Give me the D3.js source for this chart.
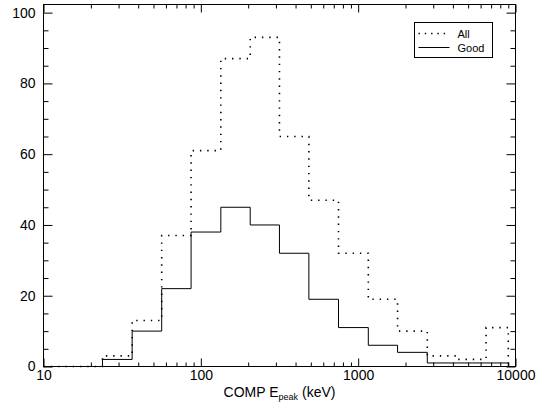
<!DOCTYPE html>
<html>
<head>
<meta charset="utf-8">
<script src="https://cdn.jsdelivr.net/npm/d3@7"></script>
<style>
  html, body { margin: 0; padding: 0; background: #fff; }
  svg { display: block; font-family: "Liberation Sans", Arial, Helvetica, sans-serif; }
</style>
</head>
<body>
<svg id="chart" width="543" height="406"></svg>
<script>
// ---- data ----
const binEdges = [10, 23.7, 36.6, 56.4, 86.7, 134, 206, 316, 486, 750, 1160, 1780, 2750, 4200, 6500, 9000];
const allCounts  = [0, 3, 13, 37, 61, 87, 93, 65, 47, 32, 19, 10, 3, 2, 11];
const goodCounts = [0, 2, 10, 22, 38, 45, 40, 32, 19, 11, 6, 4, 1, 1, 1];
const xMajorTicks = [10, 100, 1000, 10000];
const xMinorTicks = [20,30,40,50,60,70,80,90,200,300,400,500,600,700,800,900,2000,3000,4000,5000,6000,7000,8000,9000];
const yMajorTicks = [0, 20, 40, 60, 80, 100];
const yMinorTicks = [5,10,15,25,30,35,45,50,55,65,70,75,85,90,95];
const seriesNames = ["All", "Good"];

const svg = d3.select("#chart");
const L = 43.5, R = 515.5, T = 4.5, B = 366.5;

const x = d3.scaleLog().domain([10, 10000]).range([L, R]);
const y = d3.scaleLinear().domain([0, 102.3]).range([B, T]);

// frame
svg.append("rect").attr("x", L).attr("y", T).attr("width", R - L).attr("height", B - T)
  .attr("fill", "none").attr("stroke", "#000").attr("stroke-width", 1);

function styleAxis(g) {
  g.select(".domain").remove();
  g.selectAll(".tick line").attr("stroke", "#000").attr("stroke-width", 1);
  g.selectAll(".tick text").attr("fill", "#000").style("font-size", "14px")
    .style("font-family", '"Liberation Sans", Arial, Helvetica, sans-serif');
}

// bottom axis
svg.append("g").attr("transform", `translate(0,${B})`)
  .call(d3.axisBottom(x).tickValues(xMajorTicks).tickFormat(d3.format("d")).tickSize(-8).tickPadding(4))
  .call(styleAxis);
svg.append("g").attr("transform", `translate(0,${B})`)
  .call(d3.axisBottom(x).tickValues(xMinorTicks).tickFormat("").tickSize(-4))
  .call(styleAxis);
// top axis
svg.append("g").attr("transform", `translate(0,${T})`)
  .call(d3.axisTop(x).tickValues(xMajorTicks).tickFormat("").tickSize(-8))
  .call(styleAxis);
svg.append("g").attr("transform", `translate(0,${T})`)
  .call(d3.axisTop(x).tickValues(xMinorTicks).tickFormat("").tickSize(-4))
  .call(styleAxis);
// left axis
svg.append("g").attr("transform", `translate(${L},0)`)
  .call(d3.axisLeft(y).tickValues(yMajorTicks).tickFormat(d3.format("d")).tickSize(-9).tickPadding(8))
  .call(styleAxis);
svg.append("g").attr("transform", `translate(${L},0)`)
  .call(d3.axisLeft(y).tickValues(yMinorTicks).tickFormat("").tickSize(-5))
  .call(styleAxis);
// right axis
svg.append("g").attr("transform", `translate(${R},0)`)
  .call(d3.axisRight(y).tickValues(yMajorTicks).tickFormat("").tickSize(-9))
  .call(styleAxis);
svg.append("g").attr("transform", `translate(${R},0)`)
  .call(d3.axisRight(y).tickValues(yMinorTicks).tickFormat("").tickSize(-5))
  .call(styleAxis);

// histogram steps
function stepPoints(counts) {
  const pts = counts.map((c, i) => [binEdges[i], c]);
  pts.push([binEdges[binEdges.length - 1], counts[counts.length - 1]]);
  pts.push([binEdges[binEdges.length - 1], 0]);
  return pts;
}
const line = d3.line().x(d => x(d[0])).y(d => y(d[1])).curve(d3.curveStepAfter);

svg.append("path").attr("d", line(stepPoints(goodCounts)))
  .attr("fill", "none").attr("stroke", "#000").attr("stroke-width", 1);
svg.append("path").attr("d", line(stepPoints(allCounts)))
  .attr("fill", "none").attr("stroke", "#000").attr("stroke-width", 1.6)
  .attr("stroke-dasharray", "1.4,5.9");

// axis title
const title = svg.append("text").attr("x", (L + R) / 2).attr("y", 397)
  .attr("text-anchor", "middle").style("font-size", "14px").attr("fill", "#000");
title.append("tspan").text("COMP E");
title.append("tspan").attr("dy", 3).style("font-size", "9px").text("peak");
title.append("tspan").attr("dy", -3).text(" (keV)");

// legend
const lg = svg.append("g");
lg.append("rect").attr("x", 414.5).attr("y", 22.5).attr("width", 78).attr("height", 35)
  .attr("fill", "#fff").attr("stroke", "#000").attr("stroke-width", 1);
const legendY = [33.5, 47.5];
lg.append("line").attr("x1", 418.5).attr("x2", 449.5).attr("y1", legendY[0]).attr("y2", legendY[0])
  .attr("stroke", "#000").attr("stroke-width", 1.6).attr("stroke-dasharray", "1.4,4.9");
lg.append("line").attr("x1", 418.5).attr("x2", 449.5).attr("y1", legendY[1]).attr("y2", legendY[1])
  .attr("stroke", "#000").attr("stroke-width", 1);
seriesNames.forEach((n, i) => {
  lg.append("text").attr("x", 457.5).attr("y", legendY[i] + 4)
    .style("font-size", "11px").attr("fill", "#000").text(n);
});
</script>
</body>
</html>
